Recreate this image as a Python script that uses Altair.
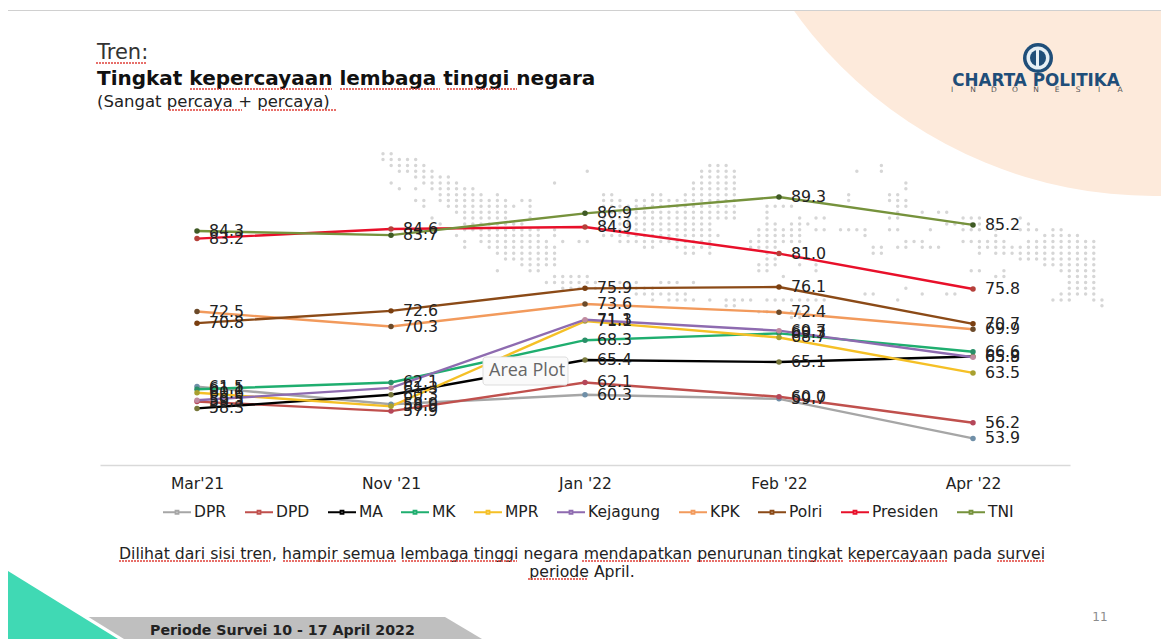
import altair as alt
import pandas as pd

# ---------- chart values ----------
periods = ["Mar'21", "Nov '21", "Jan '22", "Feb '22", "Apr '22"]
names = ["DPR", "DPD", "MA", "MK", "MPR", "Kejagung", "KPK", "Polri", "Presiden", "TNI"]
DPR = [61.5, 58.9, 60.3, 59.7, 53.9]
DPD = [59.3, 57.9, 62.1, 60.0, 56.2]
MA = [58.3, 60.3, 65.4, 65.1, 65.9]
MK = [61.1, 62.1, 68.3, 69.3, 66.6]
MPR = [60.6, 58.6, 71.1, 68.7, 63.5]
Kejagung = [59.5, 61.3, 71.3, 69.7, 65.8]
KPK = [72.5, 70.3, 73.6, 72.4, 69.9]
Polri = [70.8, 72.6, 75.9, 76.1, 70.7]
Presiden = [83.2, 84.6, 84.9, 81.0, 75.8]
TNI = [84.3, 83.7, 86.9, 89.3, 85.2]
line_colors = ["#a6a6a6", "#c0504d", "#000000", "#1fae6f", "#f5c026",
               "#8e6bb0", "#f29a5c", "#8b4a17", "#e8102a", "#76923c"]
dot_colors = ["#6f8fa8", "#b5475a", "#77773a", "#2a8f68", "#a8a030",
              "#c08aa0", "#6b4a2a", "#7a3f10", "#b5403a", "#3f5a25"]

series = [DPR, DPD, MA, MK, MPR, Kejagung, KPK, Polri, Presiden, TNI]
rows = []
for nm, vals, dc in zip(names, series, dot_colors):
    for p, v in zip(periods, vals):
        rows.append({"period": p, "lembaga": nm, "value": v, "dot": dc})
df = pd.DataFrame(rows)

# ---------- dotted map: row -> runs of grid columns ----------
map_rows = {
    0: [(0, 1)], 1: [(0, 4)], 2: [(1, 5), (40, 42), (61, 61)],
    3: [(2, 6), (25, 25), (39, 43), (58, 58), (61, 61)], 4: [(4, 8), (39, 43)],
    5: [(1, 1), (5, 9), (21, 21), (38, 43), (64, 64)],
    6: [(2, 2), (4, 4), (6, 11), (38, 43), (64, 64)],
    7: [(7, 12), (14, 14), (27, 28), (33, 34), (37, 43), (57, 57), (62, 63)],
    8: [(4, 5), (7, 15), (17, 18), (27, 29), (31, 43), (57, 57), (62, 64)],
    9: [(5, 5), (8, 16), (18, 18), (27, 43), (47, 50), (63, 64)],
    10: [(9, 15), (18, 18), (27, 43), (47, 47), (63, 63), (66, 66), (68, 69)],
    11: [(6, 6), (10, 15), (18, 18), (27, 43), (47, 47), (51, 51), (53, 54), (62, 63), (71, 73), (78, 78)],
    12: [(7, 7), (10, 17), (27, 40), (47, 48), (50, 52), (69, 73), (79, 79)],
    13: [(10, 19), (21, 21), (27, 40), (46, 51), (53, 54), (56, 59), (62, 63), (67, 67), (71, 73), (75, 75), (78, 80), (82, 83)],
    14: [(9, 9), (12, 19), (21, 21), (27, 41), (46, 51), (59, 59), (75, 75), (81, 85)],
    15: [(10, 10), (12, 20), (22, 22), (24, 25), (29, 40), (45, 51), (64, 66), (71, 76), (79, 87)],
    16: [(10, 10), (13, 21), (32, 33), (36, 40), (45, 48), (60, 61), (63, 64), (66, 68), (73, 87)],
    17: [(14, 21), (37, 38), (40, 40), (47, 48), (60, 61), (73, 73), (75, 87)],
    18: [(15, 21), (47, 48), (78, 87)],
    19: [(17, 21), (46, 48), (51, 51), (53, 53), (81, 87)],
    20: [(14, 14), (18, 19), (46, 47), (53, 53), (72, 73), (76, 76), (83, 87)],
    21: [(21, 25), (49, 49), (75, 76), (84, 87)],
    22: [(20, 26), (29, 31), (34, 36), (38, 38), (84, 87)],
    23: [(22, 33), (64, 64), (84, 87)],
    24: [(31, 37), (59, 60), (66, 66), (69, 70), (83, 87)],
    25: [(33, 33), (35, 38), (40, 40), (42, 45), (47, 54), (63, 63), (82, 84), (87, 88)],
    26: [(42, 43), (88, 88)],
    27: [(46, 47), (50, 52)],
    28: [(50, 51)],
}
dots = []
for r, runs in map_rows.items():
    for a, b in runs:
        for c in range(a, b + 1):
            dots.append({"col": c, "row": r})
dots = pd.DataFrame(dots)

# ---------- helpers (page px -> chart px) ----------
OFF = 8
X = lambda f="x": alt.X(f"{f}:Q", scale=None, axis=None)
Y = lambda f="y": alt.Y(f"{f}:Q", scale=None, axis=None)
FONT = "DejaVu Sans"


def frame(**kw):
    d = pd.DataFrame(kw)
    for c in d.columns:
        if c[0] in "xy":
            d[c] = d[c] - OFF
    return d


def poly(xs, ys, y2, color):
    d = frame(x=xs, y=ys, y2=[y2] * len(xs))
    return alt.Chart(d).mark_area(color=color, opacity=1, interpolate="linear").encode(
        x=X(), y=Y(), y2=alt.Y2("y2:Q"))


def disc(x, y, r, color):
    # a Vega circle of size s has radius sqrt(s)/2
    d = frame(x=[x], y=[y])
    return alt.Chart(d).mark_circle(color=color, opacity=1, size=4 * r * r).encode(x=X(), y=Y())


def txt(x, y, s, size=15, weight="normal", color="#222222", align="left", font=FONT):
    d = frame(x=[x], y=[y])
    d["t"] = [s]
    return alt.Chart(d).mark_text(fontSize=size, fontWeight=weight, color=color, align=align,
                                  baseline="middle", font=font).encode(x=X(), y=Y(), text="t:N")


def bars(x, x2, y, y2, color, **kw):
    d = frame(x=[x], x2=[x2], y=[y], y2=[y2])
    return alt.Chart(d).mark_rect(color=color, **kw).encode(
        x=X(), x2=alt.X2("x2:Q"), y=Y(), y2=alt.Y2("y2:Q"))


# ---------- background ----------
peach = disc(1153.7, -246, 442, "#fdeadb")
top_white = bars(8, 1169, 8, 10, "#ffffff")
top_line = bars(8, 1169, 10, 11, "#d0d0d0")
band = poly([85, 445, 482], [617, 617, 639], 639, "#bfbfbf")
tri_gap = poly([8, 124], [567, 639], 639, "#ffffff")
tri = poly([8, 118], [571, 639], 639, "#40d9b4")

map_dots = alt.Chart(dots).transform_calculate(
    x="375 + 8.17 * datum.col", y="145.7 + 5.85 * datum.row"
).mark_circle(color="#d6d6d6", opacity=1, size=12).encode(x=X(), y=Y())

# ---------- underlines ----------
wavy = pd.DataFrame(
    [(96, 146, 63), (190, 332, 89), (340, 440, 89), (447, 517, 89), (169, 242, 110), (262, 337, 110),
     (119, 270, 561), (283, 397, 561), (402, 517, 561), (582, 690, 561), (697, 843, 561),
     (849, 947, 561), (997, 1045, 561), (528, 588, 579)],
    columns=["x", "x2", "y"])
wavy = wavy - OFF
underlines = alt.Chart(wavy).mark_rule(color="#e0403a", strokeWidth=1.3, strokeDash=[2, 1]).encode(
    x=X(), x2=alt.X2("x2:Q"), y=Y())

# ---------- data layers ----------
x_enc = alt.X("period:N", sort=periods, title=None,
              scale=alt.Scale(type="point", domain=periods, range=[92, 1062], padding=0.5),
              axis=alt.Axis(offset=-174, tickSize=0, labelAngle=0, labelFont=FONT, labelFontSize=15.5,
                            labelColor="#222222", labelPadding=11, domainColor="#d9d9d9", domainWidth=1.5,
                            grid=False))
y_enc = alt.Y("value:Q", title=None, scale=alt.Scale(domain=[50, 100], range=[457, 116]), axis=None)
symbol = "M-1,0L-0.1,0M-0.1,-0.1L0.1,-0.1L0.1,0.1L-0.1,0.1ZM0.1,0L1,0"
color = alt.Color("lembaga:N", title=None,
                  scale=alt.Scale(domain=names, range=line_colors),
                  legend=alt.Legend(orient="none", legendX=154, legendY=489, direction="horizontal",
                                    columns=10, symbolType=symbol, symbolSize=784, symbolStrokeWidth=2,
                                    labelFont=FONT, labelFontSize=15.5, labelColor="#222222",
                                    labelOffset=2, columnPadding=14, padding=0))

lines = alt.Chart(df).mark_line(strokeWidth=2.4).encode(x=x_enc, y=y_enc, color=color, detail="lembaga:N")
points = alt.Chart(df).mark_circle(opacity=1, size=30).encode(
    x=x_enc, y=y_enc, color=alt.Color("dot:N", scale=None))
labels = alt.Chart(df).mark_text(align="left", baseline="middle", dx=12, fontSize=15.8, font=FONT,
                                 color="#222222").encode(
    x=x_enc, y=y_enc, text=alt.Text("value:Q", format=".1f"))

# ---------- tooltip + texts ----------
tip = bars(483, 568, 357, 385, "#fafafa", stroke="#dddddd", strokeWidth=1, cornerRadius=3)
tip_t = txt(489, 371, "Area Plot", size=18, color="#666666", font="Open Sans")

t1 = txt(97, 53, "Tren:", size=21, color="#333333")
t2 = txt(97, 79, "Tingkat kepercayaan lembaga tinggi negara", size=20, weight="bold", color="#111111")
t3 = txt(97, 102, "(Sangat percaya + percaya)", size=16.5)
p1 = txt(582, 554, "Dilihat dari sisi tren, hampir semua lembaga tinggi negara mendapatkan penurunan tingkat kepercayaan pada survei",
         size=15.7, align="center")
p2 = txt(582, 572, "periode April.", size=15.7, align="center")
foot = txt(150, 631, "Periode Survei 10 - 17 April 2022", size=14.2, weight="bold")
page = txt(1100, 617, "11", size=12, color="#8c8c8c", align="center")

letters = list("INDONESIA")
logo = [disc(1038, 58, 15, "#1f4e79"), disc(1038, 58, 11.5, "#e6eff5"), disc(1038, 58, 8, "#1f4e79"),
        bars(1036, 1039, 47, 69, "#e6eff5"),
        txt(1036, 80.5, "CHARTA POLITIKA", size=16.8, weight="bold", color="#1f4e79", align="center")]
for i, ch in enumerate(letters):
    logo.append(txt(952 + 21 * i, 90, ch, size=7.5, color="#555555", align="center"))

chart = alt.layer(
    peach, top_white, top_line, band, tri_gap, tri, map_dots,
    lines, points, labels, tip, tip_t,
    t1, t2, t3, p1, p2, underlines, foot, page, *logo
).properties(
    width=1153, height=631, padding=0, autosize=alt.AutoSizeParams(type="none")
).configure_view(stroke=None)

chart.save("out.html", embed_options={"renderer": "svg", "actions": False})
